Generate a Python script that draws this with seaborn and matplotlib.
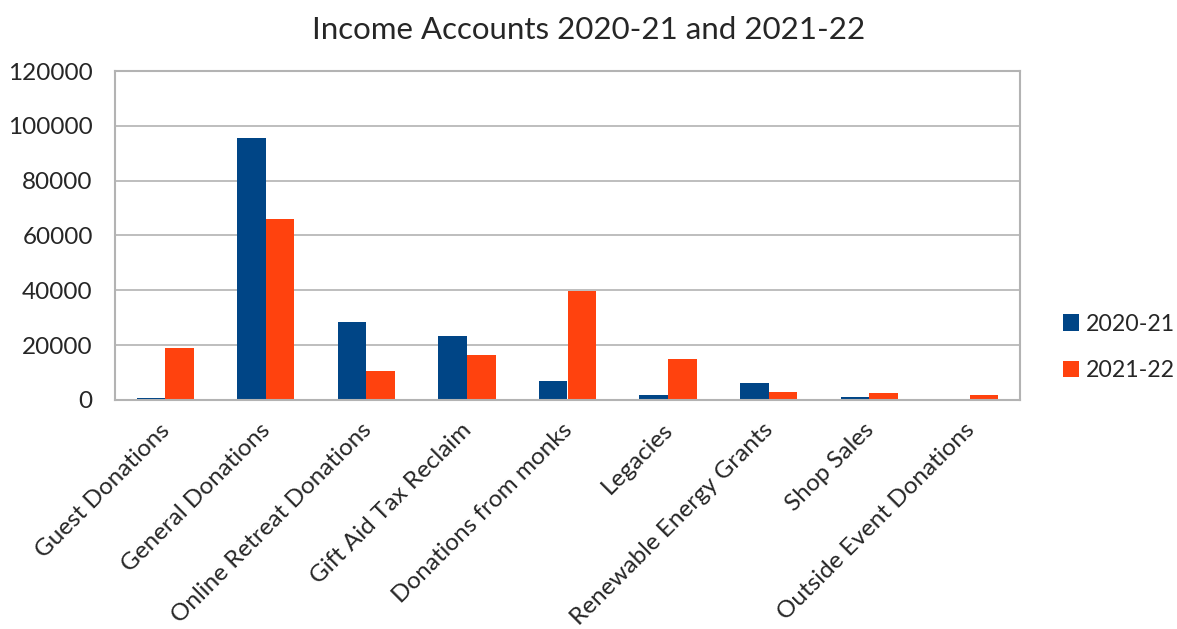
import matplotlib
matplotlib.use("Agg")
import matplotlib.pyplot as plt
import matplotlib.transforms as mtransforms
import seaborn as sns
import pandas as pd

# Values
categories = ["Guest Donations", "General Donations", "Online Retreat Donations",
              "Gift Aid Tax Reclaim", "Donations from monks", "Legacies",
              "Renewable Energy Grants", "Shop Sales", "Outside Event Donations"]
income_2020_21 = [700, 95500, 28600, 23200, 7050, 1950, 6250, 1100, 0]
income_2021_22 = [19100, 65900, 10600, 16400, 39700, 15100, 3050, 2600, 1950]
years = ["2020-21", "2021-22"]
colors = ["#004586", "#ff420e"]

df = pd.DataFrame({
    "category": categories * 2,
    "year": [years[0]] * len(categories) + [years[1]] * len(categories),
    "value": income_2020_21 + income_2021_22,
})

sns.set_style("white")
plt.rcParams["font.family"] = ["Lato", "DejaVu Sans"]

fig, ax = plt.subplots(figsize=(11.77, 6.29), dpi=100)
fig.subplots_adjust(left=115 / 1177, right=1020 / 1177, top=1 - 71 / 629, bottom=1 - 400 / 629)

sns.barplot(data=df, x="category", y="value", hue="year", palette=colors,
            width=0.57, ax=ax, linewidth=0, saturation=1)

ax.set_ylim(0, 120000)
ax.set_yticks(range(0, 120001, 20000))
ax.set_yticklabels([str(v) for v in range(0, 120001, 20000)], fontsize=17.5)
ax.yaxis.grid(True, color="#b3b3b3", linewidth=1.2)
ax.set_axisbelow(True)
ax.set_xlim(-0.5, len(categories) - 0.5)
for s in ax.spines.values():
    s.set_color("#b3b3b3")
    s.set_linewidth(1.5)
ax.tick_params(axis="y", length=0, pad=16)
ax.tick_params(axis="x", length=0, pad=14)
ax.set_xticks(range(len(categories)))
ax.set_xticklabels(categories, rotation=45, ha="right", rotation_mode="anchor", fontsize=17.5)
shift = mtransforms.ScaledTranslation(-6 / 100, 0, fig.dpi_scale_trans)
for lbl in ax.get_xticklabels():
    lbl.set_transform(lbl.get_transform() + shift)
ax.set_xlabel("")
ax.set_ylabel("")

fig.suptitle("Income Accounts 2020-21 and 2021-22", fontsize=22.5, y=0.975)

ax.legend(title=None, frameon=False, fontsize=16.7, loc="center left",
          bbox_to_anchor=(1.024, 0.16), handlelength=0.7, handleheight=0.7,
          labelspacing=1.1, handletextpad=0.3)

fig.savefig("out.png", dpi=100)
